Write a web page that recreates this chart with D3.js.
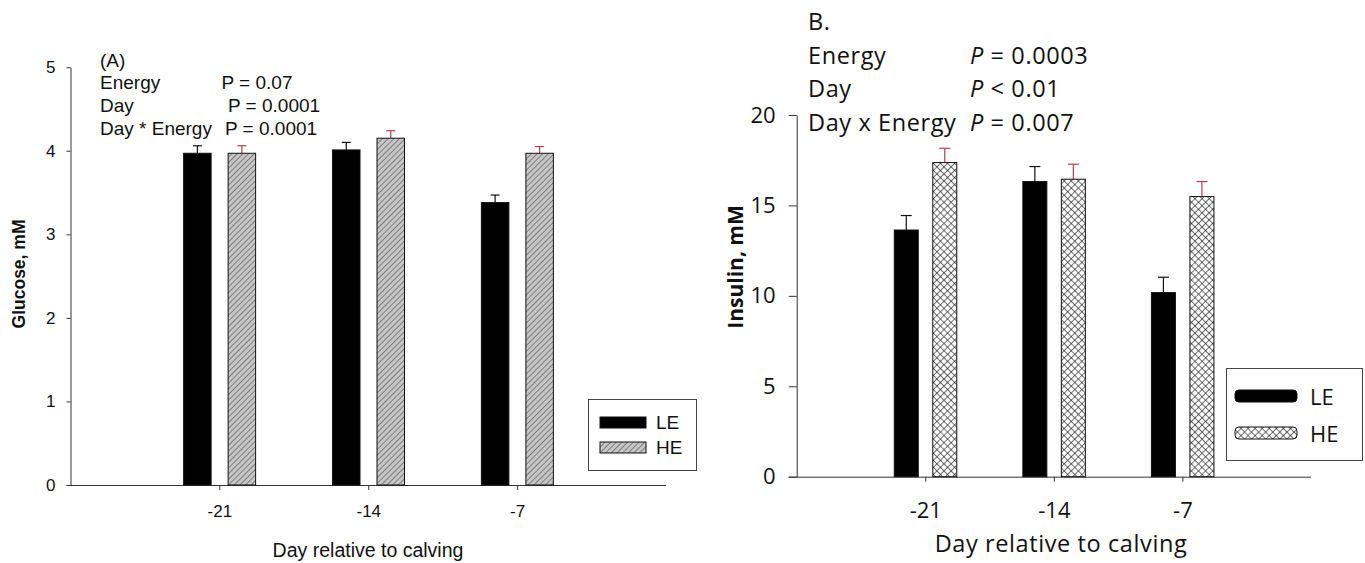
<!DOCTYPE html>
<html>
<head>
<meta charset="utf-8">
<script src="https://cdn.jsdelivr.net/npm/d3@7"></script>
<style>
  html, body { margin: 0; padding: 0; background: #fff; }
  svg { display: block; }
</style>
</head>
<body>
<svg id="chart" width="1365" height="563"></svg>
<script>
// ---- data ----
const days = [-21, -14, -7];
const groups = ["LE", "HE"];

// Panel A: plasma glucose (mM), mean and mean + SE
const glucoseLE = [3.97, 4.01, 3.38];
const glucoseLEerr = [4.06, 4.10, 3.47];
const glucoseHE = [3.97, 4.15, 3.97];
const glucoseHEerr = [4.06, 4.24, 4.05];
const glucoseTicks = [0, 1, 2, 3, 4, 5];

// Panel B: insulin
const insulinLE = [13.64, 16.32, 10.18];
const insulinLEerr = [14.44, 17.15, 11.03];
const insulinHE = [17.37, 16.45, 15.49];
const insulinHEerr = [18.16, 17.28, 16.32];
const insulinTicks = [0, 5, 10, 15, 20];

const statsA = [["(A)", ""], ["Energy", "P = 0.07"], ["Day", "P = 0.0001"], ["Day * Energy", "P = 0.0001"]];
const statsB = [["B.", ""], ["Energy", "= 0.0003"], ["Day", "< 0.01"], ["Day x Energy", "= 0.007"]];

const svg = d3.select("#chart");
const defs = svg.append("defs");

// diagonal hatch on grey
const hatch = defs.append("pattern").attr("id", "hatch")
  .attr("patternUnits", "userSpaceOnUse").attr("width", 4).attr("height", 4)
  .attr("patternTransform", "rotate(45)");
hatch.append("rect").attr("width", 4).attr("height", 4).attr("fill", "#c6c6c6");
hatch.append("line").attr("x1", 0).attr("y1", 0).attr("x2", 0).attr("y2", 4)
  .attr("stroke", "#222").attr("stroke-width", 0.9);

// cross hatch on white
const cross = defs.append("pattern").attr("id", "cross")
  .attr("patternUnits", "userSpaceOnUse").attr("width", 5).attr("height", 5)
  .attr("patternTransform", "rotate(45)");
cross.append("rect").attr("width", 5).attr("height", 5).attr("fill", "#fff");
cross.append("line").attr("x1", 0).attr("y1", 0).attr("x2", 0).attr("y2", 5)
  .attr("stroke", "#111").attr("stroke-width", 1.2);
cross.append("line").attr("x1", 0).attr("y1", 0).attr("x2", 5).attr("y2", 0)
  .attr("stroke", "#111").attr("stroke-width", 1.2);

const errColor = { LE: "#111", HE: "#b0414c" };
const plain = d => String(d);

function panel(cfg) {
  const g = svg.append("g");
  const x = d3.scaleLinear().domain([-28, 0]).range(cfg.xRange);
  const y = d3.scaleLinear().domain(cfg.yDomain).range(cfg.yRange);

  // y axis
  const ya = g.append("g").attr("transform", `translate(${cfg.xRange[0]},0)`)
    .call(d3.axisLeft(y).tickValues(cfg.yTicks).tickFormat(plain)
      .tickSize(cfg.yTickSize).tickSizeOuter(0).tickPadding(cfg.yPad));
  // x axis
  const xa = g.append("g").attr("transform", `translate(0,${cfg.yRange[0]})`)
    .call(d3.axisBottom(x).tickValues(days).tickFormat(plain)
      .tickSize(5).tickSizeOuter(0).tickPadding(cfg.xPad));
  xa.select(".domain").attr("d", `M${cfg.xRange[0] - cfg.yTickSize},0.5H${cfg.xRange[1]}`);
  [ya, xa].forEach(a => {
    a.selectAll("path,line").attr("stroke", "#333");
    a.selectAll("text").attr("font-family", cfg.font).attr("font-size", cfg.tickFont).attr("fill", "#111");
  });

  // bars + error bars
  const series = [
    { key: "LE", v: cfg.le, e: cfg.leErr, off: cfg.offLE, fill: "#000" },
    { key: "HE", v: cfg.he, e: cfg.heErr, off: cfg.offHE, fill: cfg.pattern }
  ];
  series.forEach(s => {
    days.forEach((d, i) => {
      const cx = x(d) + s.off;
      g.append("line").attr("x1", cx).attr("x2", cx).attr("y1", y(s.v[i])).attr("y2", y(s.e[i]))
        .attr("stroke", errColor[s.key]).attr("stroke-width", 1.2);
      g.append("line").attr("x1", cx - cfg.cap / 2).attr("x2", cx + cfg.cap / 2)
        .attr("y1", y(s.e[i])).attr("y2", y(s.e[i]))
        .attr("stroke", errColor[s.key]).attr("stroke-width", 1.2);
      g.append("rect").attr("x", cx - cfg.barW / 2).attr("width", cfg.barW)
        .attr("y", y(s.v[i])).attr("height", y(0) - y(s.v[i]))
        .attr("fill", s.fill).attr("stroke", "#111").attr("stroke-width", 1);
    });
  });

  // axis titles
  g.append("text").attr("transform", `translate(${cfg.yTitlePos[0]},${cfg.yTitlePos[1]}) rotate(-90)`)
    .attr("text-anchor", "middle").attr("dominant-baseline", "central")
    .attr("font-family", cfg.font).attr("font-weight", "bold").attr("font-size", cfg.yTitleFont)
    .attr("fill", "#111").text(cfg.yTitle);
  g.append("text").attr("x", cfg.xTitlePos[0]).attr("y", cfg.xTitlePos[1])
    .attr("text-anchor", "middle").attr("dominant-baseline", "central")
    .attr("font-family", cfg.font).attr("font-size", cfg.xTitleFont)
    .attr("letter-spacing", cfg.spacing)
    .attr("fill", "#111").text("Day relative to calving");

  // statistics block
  cfg.stats.forEach((row, i) => {
    g.append("text").attr("x", cfg.statX).attr("y", cfg.statY[i])
      .attr("font-family", cfg.font).attr("font-size", cfg.statFont).attr("letter-spacing", cfg.spacing)
      .attr("fill", "#111").text(row[0]);
    if (row[1]) {
      const t = g.append("text").attr("x", cfg.pX[i]).attr("y", cfg.statY[i])
        .attr("font-family", cfg.font).attr("font-size", cfg.statFont).attr("letter-spacing", cfg.spacing)
        .attr("fill", "#111");
      if (cfg.italicP) {
        t.append("tspan").attr("font-style", "italic").text("P");
        t.append("tspan").text(" " + row[1]);
      } else {
        t.text(row[1]);
      }
    }
  });

  // legend
  const L = cfg.legend;
  g.append("rect").attr("x", L.box[0] + 0.5).attr("y", L.box[1] + 0.5)
    .attr("width", L.box[2]).attr("height", L.box[3])
    .attr("fill", "#fff").attr("stroke", "#444").attr("stroke-width", 1);
  groups.forEach((k, i) => {
    g.append("rect").attr("x", L.sw[0]).attr("y", L.swY[i]).attr("width", L.sw[1]).attr("height", L.sw[2])
      .attr("rx", L.rx).attr("fill", k === "LE" ? "#000" : cfg.pattern)
      .attr("stroke", "#111").attr("stroke-width", 1);
    g.append("text").attr("x", L.tx).attr("y", L.swY[i] + L.sw[2] / 2)
      .attr("dominant-baseline", "central")
      .attr("font-family", cfg.font).attr("font-size", L.font).attr("fill", "#111").text(k);
  });
}

panel({
  font: "'Liberation Sans', Arial, sans-serif", spacing: 0,
  xRange: [70.5, 666], yRange: [485, 67.2], yDomain: [0, 5], yTicks: glucoseTicks,
  yTickSize: 4, yPad: 11, xPad: 15, tickFont: 17,
  le: glucoseLE, leErr: glucoseLEerr, he: glucoseHE, heErr: glucoseHEerr,
  offLE: -22, offHE: 22.5, barW: 27.5, cap: 9, pattern: "url(#hatch)",
  yTitle: "Glucose, mM", yTitlePos: [19, 274], yTitleFont: 17.5,
  xTitlePos: [368, 550], xTitleFont: 19.5,
  stats: statsA, statX: 100, statY: [66.5, 89, 112, 134.5], pX: [0, 221.5, 228, 225], statFont: 19, italicP: false,
  legend: { box: [588, 399, 108, 71], sw: [600, 46, 11], swY: [417, 442], rx: 0, tx: 656, font: 19 }
});

panel({
  font: "'Open Sans', 'Noto Sans', sans-serif", spacing: "0.6px",
  xRange: [796.7, 1311], yRange: [476.7, 115], yDomain: [0, 20], yTicks: insulinTicks,
  yTickSize: 8, yPad: 13, xPad: 21, tickFont: 22,
  le: insulinLE, leErr: insulinLEerr, he: insulinHE, heErr: insulinHEerr,
  offLE: -19, offHE: 19.5, barW: 24, cap: 11, pattern: "url(#cross)",
  yTitle: "Insulin, mM", yTitlePos: [735, 267], yTitleFont: 21,
  xTitlePos: [1061, 543], xTitleFont: 23.5,
  stats: statsB, statX: 808, statY: [30, 63.5, 97, 131], pX: [0, 970, 970, 970], statFont: 23.5, italicP: true,
  legend: { box: [1226, 368, 136, 92], sw: [1235, 62, 12], swY: [390, 427], rx: 4, tx: 1310, font: 22 }
});
</script>
</body>
</html>
